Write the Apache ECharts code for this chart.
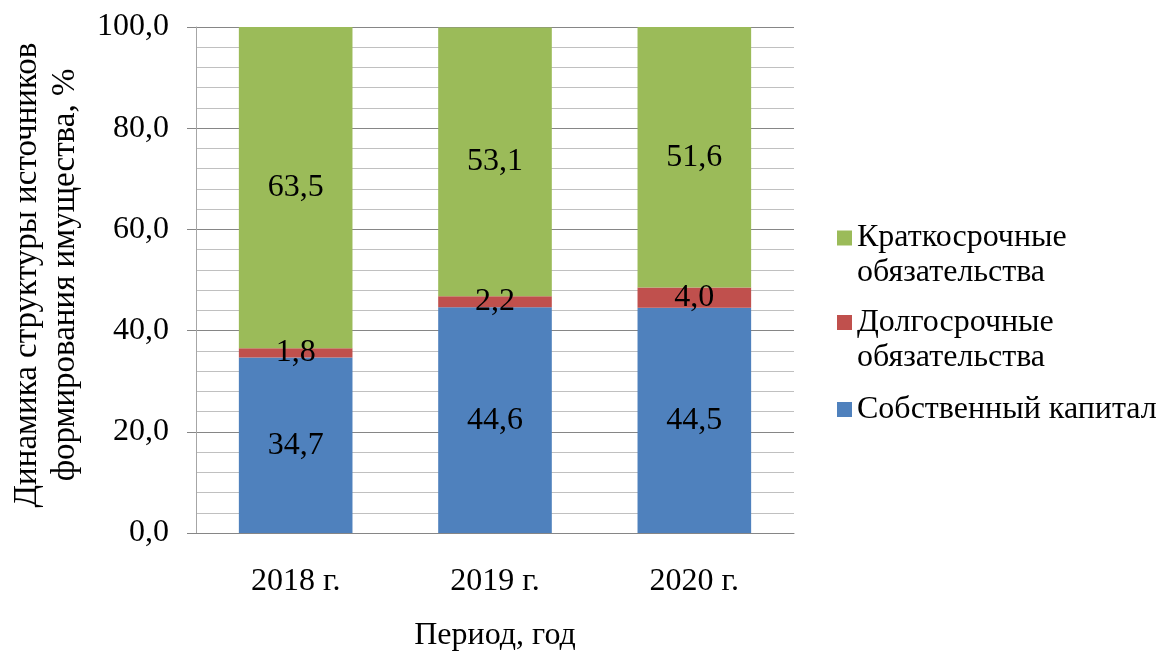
<!DOCTYPE html>
<html>
<head>
<meta charset="utf-8">
<script src="https://cdn.jsdelivr.net/npm/echarts@6/dist/echarts.min.js"></script>
<style>
html,body{margin:0;padding:0;background:#fff;}
#chart{width:1163px;height:653px;}
</style>
</head>
<body>
<div id="chart"></div>
<script>
const categories = ['2018 г.', '2019 г.', '2020 г.'];
const equity = [34.7, 44.6, 44.5];
const longTerm = [1.8, 2.2, 4.0];
const shortTerm = [63.5, 53.1, 51.6];
const seriesNames = ['Собственный капитал', 'Долгосрочные\nобязательства', 'Краткосрочные\nобязательства'];
const yTicks = [0, 20, 40, 60, 80, 100];

const FONT = '"Liberation Serif", "Times New Roman", serif';
const FS = 32;
const LH = 35;
const fmt = v => v.toFixed(1).replace('.', ',');

const chart = echarts.init(document.getElementById('chart'), null, {renderer: 'canvas'});

function mkSeries(name, data, color) {
  return {
    name: name,
    type: 'bar',
    stack: 'total',
    data: data,
    barWidth: '57%',
    itemStyle: {color: color},
    label: {
      show: true,
      position: 'inside',
      color: '#000',
      fontFamily: FONT,
      fontSize: FS,
      formatter: p => fmt(p.value)
    }
  };
}

function mkLegend(name, top) {
  return {
    orient: 'vertical',
    left: 837,
    top: top,
    padding: 0,
    itemWidth: 15,
    itemHeight: 15,
    icon: 'rect',
    selectedMode: false,
    formatter: n => (n.indexOf('\n') >= 0 ? ' \n' + n : n),
    textStyle: {
      fontFamily: FONT,
      fontSize: FS,
      lineHeight: LH,
      color: '#000'
    },
    data: [name]
  };
}

chart.setOption({
  animation: false,
  backgroundColor: '#fff',
  grid: {left: 196, right: 369, top: 27, bottom: 120, containLabel: false, outerBoundsMode: 'none'},
  legend: [
    mkLegend(seriesNames[2], 185.5),
    mkLegend(seriesNames[1], 270),
    mkLegend(seriesNames[0], 392)
  ],
  xAxis: {
    type: 'category',
    data: categories,
    name: 'Период, год',
    nameLocation: 'middle',
    nameGap: 87,
    nameTextStyle: {fontFamily: FONT, fontSize: FS, color: '#000'},
    axisLine: {show: true, lineStyle: {color: '#868686', width: 1}},
    axisTick: {show: false},
    axisLabel: {fontFamily: FONT, fontSize: FS, color: '#000', margin: 33},
    splitLine: {show: false}
  },
  yAxis: {
    type: 'value',
    min: yTicks[0],
    max: yTicks[yTicks.length - 1],
    interval: 20,
    name: 'Динамика структуры источников\nформирования имущества, %',
    nameLocation: 'middle',
    nameRotate: 90,
    nameGap: 112,
    nameTextStyle: {fontFamily: FONT, fontSize: 33, lineHeight: 38, color: '#000', padding: [0, 0, 0, 10]},
    axisLine: {show: true, lineStyle: {color: '#A6A6A6', width: 1}},
    axisTick: {show: true, inside: false, length: 9, lineStyle: {color: '#868686'}},
    minorTick: {show: false, splitNumber: 5},
    axisLabel: {fontFamily: FONT, fontSize: FS, color: '#000', margin: 27, formatter: v => fmt(v)},
    splitLine: {show: true, lineStyle: {color: '#868686', width: 1}},
    minorSplitLine: {show: true, lineStyle: {color: '#C0C0C0', width: 1}}
  },
  series: [
    mkSeries(seriesNames[0], equity, '#4F81BD'),
    mkSeries(seriesNames[1], longTerm, '#C0504D'),
    mkSeries(seriesNames[2], shortTerm, '#9BBB59')
  ]
});
</script>
</body>
</html>
